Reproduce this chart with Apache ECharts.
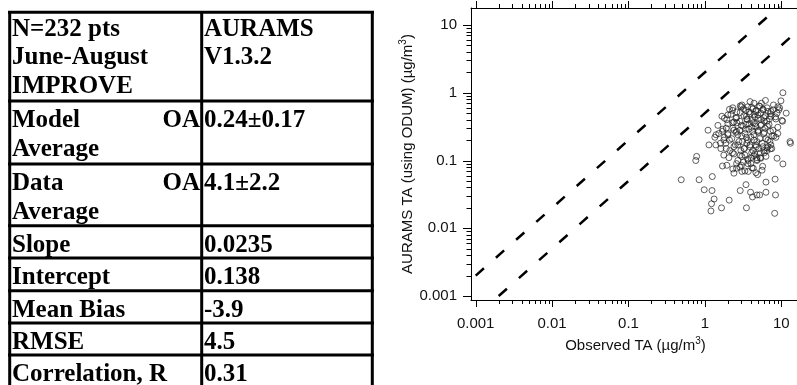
<!DOCTYPE html>
<html>
<head>
<meta charset="utf-8">
<script src="https://cdn.jsdelivr.net/npm/echarts@6/dist/echarts.min.js"></script>
<style>
  html, body { margin: 0; padding: 0; background: #fff; }
  #chart { width: 797px; height: 385px; }
</style>
</head>
<body>
<div id="chart"></div>
<script>
// statistics table (left side)
const tableRows = [
  { left: ["N=232 pts", "June-August", "IMPROVE"], right: ["AURAMS", "V1.3.2"] },
  { left: ["Model", "Average"], tag: "OA", right: ["0.24±0.17"] },
  { left: ["Data", "Average"], tag: "OA", right: ["4.1±2.2"] },
  { left: ["Slope"], right: ["0.0235"] },
  { left: ["Intercept"], right: ["0.138"] },
  { left: ["Mean Bias"], right: ["-3.9"] },
  { left: ["RMSE"], right: ["4.5"] },
  { left: ["Correlation, R"], right: ["0.31"] }
];

// tick labels of both log axes
const decades = [0.001, 0.01, 0.1, 1, 10];

// reference lines: model = 2 x obs and model = obs / 2
const lineHigh = [[0.001, 0.002], [10, 20]];
const lineLow = [[0.002, 0.001], [20, 10]];

// observed TA vs AURAMS TA (ug/m3)
const sparsePts = [
  [10.5, 1.0], [9.9, 0.76], [11.6, 0.50], [9.3, 0.56], [3.9, 0.74], [4.4, 0.70], [5.5, 0.70],
  [6.2, 0.77], [2.1, 0.57], [2.9, 0.64], [1.8, 0.42], [1.1, 0.28], [1.4, 0.24], [1.13, 0.17],
  [13.0, 0.19], [13.2, 0.18], [0.78, 0.115], [0.76, 0.10], [1.7, 0.083], [0.49, 0.052],
  [0.84, 0.052], [1.25, 0.058], [0.98, 0.037], [1.24, 0.036], [8.8, 0.108], [10.5, 0.089],
  [6.3, 0.048], [8.3, 0.053], [2.9, 0.036], [3.96, 0.034], [4.2, 0.029], [4.8, 0.031],
  [5.2, 0.031], [6.3, 0.034], [8.4, 0.031], [3.45, 0.044], [1.32, 0.027], [1.22, 0.023],
  [1.2, 0.018], [1.65, 0.020], [2.08, 0.026], [3.5, 0.020], [8.2, 0.0166], [5.7, 0.082],
  [4.9, 0.062], [2.4, 0.065], [3.05, 0.069], [3.7, 0.069], [4.3, 0.077], [2.6, 0.077],
  [4.8, 0.103], [6.5, 0.153], [7.2, 0.149], [5.3, 0.129], [10.4, 0.38]
];
const upperPts = [
  [2.32, 0.6], [2.62, 0.52], [3.05, 0.66], [3.44, 0.55], [3.64, 0.62], [4.25, 0.58], [4.65, 0.53],
  [5.25, 0.63], [5.75, 0.56], [6.5, 0.6], [7.3, 0.53], [7.9, 0.66], [9.0, 0.62],
  [1.67, 0.45], [1.94, 0.40], [2.19, 0.48], [2.55, 0.42], [2.87, 0.38], [3.24, 0.46], [3.54, 0.41],
  [3.88, 0.49], [4.12, 0.39], [4.51, 0.44], [4.94, 0.47], [5.4, 0.40], [5.9, 0.43], [6.5, 0.38],
  [7.3, 0.45], [8.5, 0.41], [10.2, 0.39],
  [2.0, 0.47], [2.3, 0.55], [2.6, 0.43], [2.9, 0.51], [3.2, 0.58], [3.5, 0.45], [3.8, 0.52],
  [4.1, 0.61], [4.4, 0.48], [4.7, 0.55], [5.0, 0.42], [5.4, 0.5], [5.8, 0.57], [6.2, 0.46],
  [6.7, 0.53], [7.2, 0.49], [7.8, 0.56], [8.4, 0.44], [2.4, 0.37], [3.0, 0.62], [3.6, 0.40],
  [4.3, 0.36], [5.1, 0.64], [6.0, 0.38], [7.0, 0.41], [8.8, 0.5], [9.5, 0.6]
];
const middlePts = [
  [1.48, 0.33], [1.72, 0.29], [2.0, 0.35], [2.32, 0.30], [2.62, 0.36], [2.87, 0.28], [3.14, 0.32],
  [3.44, 0.34], [3.77, 0.29], [4.12, 0.31], [4.51, 0.35], [4.94, 0.27], [5.4, 0.33], [6.1, 0.30],
  [6.9, 0.34], [7.8, 0.28], [9.0, 0.31],
  [1.9, 0.3], [2.3, 0.36], [2.6, 0.27], [3.0, 0.33], [3.4, 0.29], [3.8, 0.35], [4.2, 0.27],
  [4.6, 0.32], [5.0, 0.28], [5.5, 0.34], [6.0, 0.26], [6.6, 0.32], [7.2, 0.27]
];
const lowerPts = [
  [1.35, 0.22], [1.52, 0.25], [1.77, 0.20], [2.0, 0.24], [2.25, 0.21], [2.55, 0.26], [2.79, 0.19],
  [3.05, 0.23], [3.34, 0.25], [3.64, 0.20], [4.0, 0.22], [4.38, 0.24], [4.8, 0.19], [5.25, 0.21],
  [5.9, 0.25], [6.7, 0.20], [7.55, 0.23], [8.5, 0.22],
  [1.39, 0.17], [1.62, 0.15], [1.88, 0.18], [2.12, 0.14], [2.4, 0.16], [2.7, 0.17], [2.96, 0.14],
  [3.24, 0.15], [3.54, 0.18], [3.88, 0.16], [4.25, 0.14], [4.65, 0.17], [5.1, 0.15], [5.75, 0.16],
  [6.5, 0.14], [7.3, 0.17],
  [1.77, 0.12], [2.06, 0.11], [2.4, 0.125], [2.7, 0.10], [3.05, 0.115], [3.34, 0.12], [3.64, 0.105],
  [4.0, 0.11], [4.38, 0.118], [4.8, 0.10], [5.4, 0.108], [6.3, 0.115],
  [1.94, 0.085], [2.32, 0.075], [2.87, 0.08], [3.34, 0.07], [3.64, 0.09], [4.12, 0.078],
  [4.65, 0.066], [5.6, 0.072],
  [1.6, 0.18], [1.8, 0.22], [1.9, 0.15], [2.1, 0.2], [2.3, 0.13], [2.5, 0.17], [2.7, 0.24],
  [2.9, 0.12], [3.1, 0.19], [3.3, 0.15], [3.5, 0.22], [3.7, 0.1], [3.9, 0.17], [4.1, 0.13],
  [4.4, 0.2], [4.7, 0.16], [5.0, 0.26], [5.3, 0.11], [5.6, 0.18], [5.9, 0.14], [6.3, 0.21],
  [3.2, 0.095], [6.7, 0.16], [4.5, 0.125], [7.1, 0.19], [7.5, 0.15], [8.0, 0.23], [6.0, 0.13],
  [1.7, 0.27], [2.0, 0.25], [2.4, 0.28], [2.6, 0.09], [3.0, 0.085], [4.0, 0.09], [9.0, 0.25],
  [4.8, 0.11]
];

const xMin = Math.pow(10, -3.0615), xMax = Math.pow(10, 1.245);
const yMin = Math.pow(10, -3.059), yMax = Math.pow(10, 1.251);

// log ticks: 1..9 in every decade, flag 1 = decade
function logTicks(lo, hi) {
  const out = [];
  decades.forEach(function (d) {
    for (let k = 1; k <= 9; k++) {
      const v = k * d;
      if (v >= lo && v <= hi) out.push({ v: v, major: k === 1 ? 1 : 0 });
    }
  });
  return out;
}
const xTicks = logTicks(xMin, xMax).map(t => [t.v, 1, t.major]);
const yTicks = logTicks(yMin, yMax).map(t => [1, t.v, t.major]);

function fmt(v) {
  return String(Number(Number(v).toPrecision(3)));
}

// ---------- table graphics ----------
const serif = 'bold 25px "Liberation Serif", "Times New Roman", serif';
const rowTops = [12.3, 101, 164, 225.7, 258, 290.7, 323, 355];
const colX = [9.7, 201.7, 372.3];
const graphics = [];
function hLine(y) {
  graphics.push({ type: 'line', shape: { x1: 8, y1: y, x2: 374, y2: y }, style: { stroke: '#000', lineWidth: 3 } });
}
function vLine(x) {
  graphics.push({ type: 'line', shape: { x1: x, y1: 11, x2: x, y2: 390 }, style: { stroke: '#000', lineWidth: 3 } });
}
function txt(s, x, baseline, align) {
  graphics.push({
    type: 'text', x: x, y: baseline - 8.4,
    style: { text: s, font: serif, fill: '#000', align: align || 'left', verticalAlign: 'middle' }
  });
}
rowTops.forEach(hLine);
colX.forEach(vLine);
tableRows.forEach(function (row, i) {
  const b0 = rowTops[i] + (i === 0 ? 25.5 : 28);
  row.left.forEach(function (s, j) { txt(s, 12, b0 + j * 28.5); });
  if (row.tag) txt(row.tag, 200, b0, 'right');
  row.right.forEach(function (s, j) { txt(s, 204, b0 + j * 28.5); });
});

// ---------- chart ----------
const sans = '"Liberation Sans", Arial, sans-serif';
const myChart = echarts.init(document.getElementById('chart'));

function xTickItem(params, api) {
  const cs = params.coordSys;
  const px = Math.round(api.coord([api.value(0), 1])[0]) + 0.5;
  const len = api.value(2) ? 7 : 4;
  const bottom = cs.y + cs.height;
  return {
    type: 'group',
    children: [
      { type: 'line', shape: { x1: px, y1: bottom, x2: px, y2: bottom + len }, style: { stroke: '#000', lineWidth: 1 } },
      { type: 'line', shape: { x1: px, y1: cs.y, x2: px, y2: cs.y - len }, style: { stroke: '#000', lineWidth: 1 } }
    ]
  };
}
function yTickItem(params, api) {
  const cs = params.coordSys;
  const py = Math.round(api.coord([1, api.value(1)])[1]) + 0.5;
  const len = api.value(2) ? 8 : 4.5;
  return {
    type: 'line',
    shape: { x1: cs.x, y1: py, x2: cs.x - len, y2: py },
    style: { stroke: '#000', lineWidth: 1 }
  };
}

const option = {
  backgroundColor: '#fff',
  animation: false,
  graphic: { elements: graphics },
  grid: { left: 471, top: 8, right: -3, bottom: 85, containLabel: false, outerBoundsMode: 'none' },
  xAxis: [
    {
      type: 'log', logBase: 10, min: xMin, max: xMax,
      name: '{a|Observed TA (µg/m}{s|3}{a|)}',
      nameLocation: 'middle', nameGap: 27,
      nameTextStyle: {
        rich: {
          a: { fontFamily: sans, fontSize: 15, color: '#111', lineHeight: 20 },
          s: { fontFamily: sans, fontSize: 10, color: '#111', lineHeight: 10, verticalAlign: 'top' }
        }
      },
      axisLine: { lineStyle: { color: '#000', width: 1 } },
      axisTick: { show: false },
      splitLine: { show: false },
      axisLabel: {
        margin: 16, fontFamily: sans, fontSize: 15, color: '#111',
        showMinLabel: false, showMaxLabel: false, formatter: fmt
      }
    },
    {
      type: 'log', logBase: 10, min: xMin, max: xMax, position: 'top',
      axisLine: { lineStyle: { color: '#000', width: 1 } },
      axisTick: { show: false }, axisLabel: { show: false }, splitLine: { show: false }
    }
  ],
  yAxis: {
    type: 'log', logBase: 10, min: yMin, max: yMax,
    name: '{a|AURAMS TA (using ODUM) (µg/m}{s|3}{a|)}',
    nameLocation: 'middle', nameGap: 43, nameRotate: 90,
    nameTextStyle: {
      rich: {
        a: { fontFamily: sans, fontSize: 15, color: '#111', lineHeight: 20 },
        s: { fontFamily: sans, fontSize: 10, color: '#111', lineHeight: 10, verticalAlign: 'top' }
      }
    },
    axisLine: { lineStyle: { color: '#000', width: 1 } },
    axisTick: { show: false },
    splitLine: { show: false },
    axisLabel: {
      margin: 14, fontFamily: sans, fontSize: 15, color: '#111',
      showMinLabel: false, showMaxLabel: false, formatter: fmt
    }
  },
  series: [
    {
      type: 'line', data: lineHigh, showSymbol: false, silent: true,
      lineStyle: { color: '#000', width: 2.5, type: [11, 16] }
    },
    {
      type: 'line', data: lineLow, showSymbol: false, silent: true,
      lineStyle: { color: '#000', width: 2.5, type: [11, 16] }
    },
    {
      type: 'scatter',
      data: sparsePts.concat(upperPts, middlePts, lowerPts),
      symbol: 'circle', symbolSize: 6,
      itemStyle: { color: 'rgba(0,0,0,0)', borderColor: '#222', borderWidth: 0.9 }
    },
    {
      type: 'custom', data: xTicks, encode: { x: 0, y: 1 }, clip: false, silent: true,
      renderItem: xTickItem
    },
    {
      type: 'custom', data: yTicks, encode: { x: 0, y: 1 }, clip: false, silent: true,
      renderItem: yTickItem
    }
  ]
};
myChart.setOption(option);
</script>
</body>
</html>
